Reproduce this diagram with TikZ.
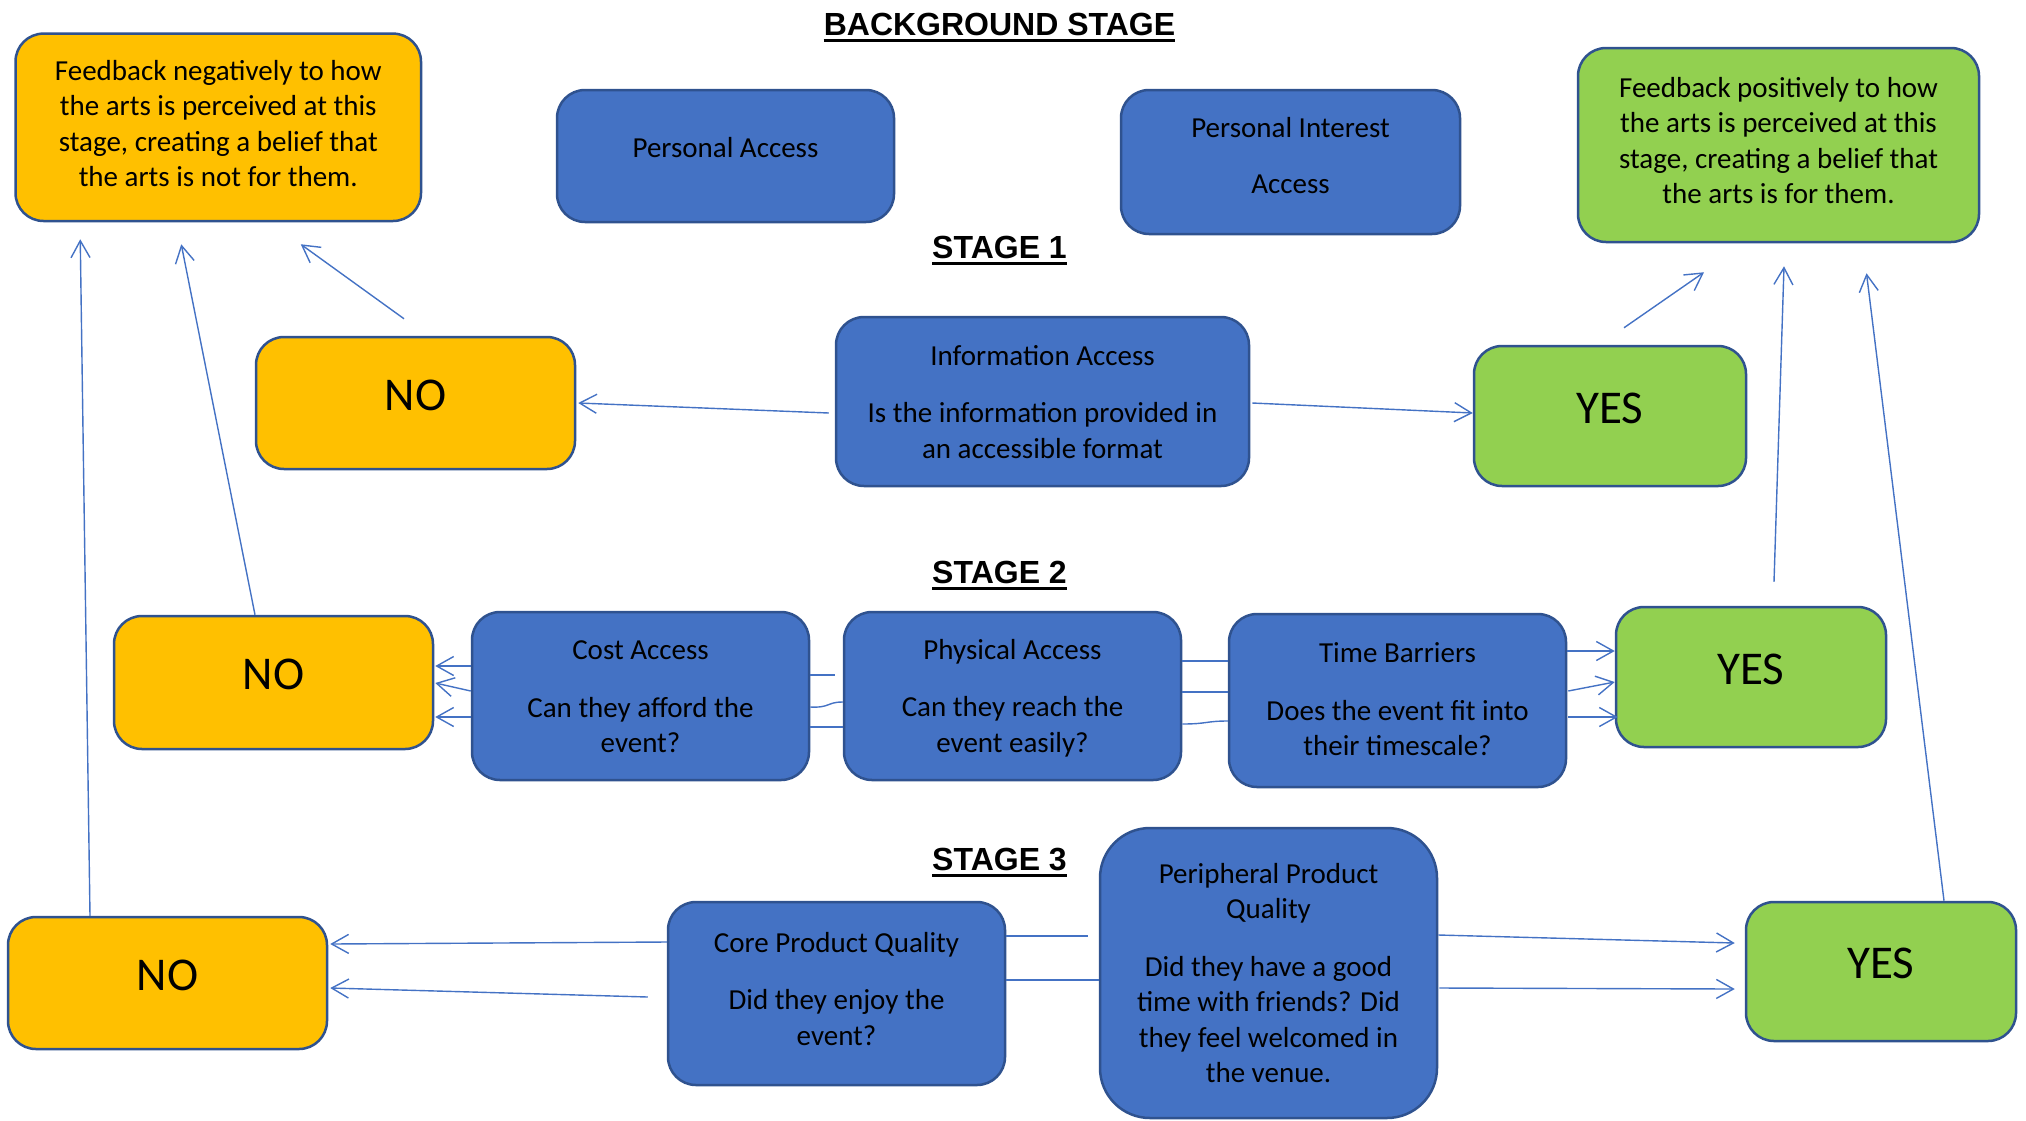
\documentclass[tikz,border=0pt]{standalone}
\usepackage{fontspec}
\setmainfont{Carlito}
\newfontfamily\titlefont{Liberation Sans}
\usetikzlibrary{arrows.meta,calc}
\definecolor{fillblue}{HTML}{4472C4}
\definecolor{edgeblue}{HTML}{2F528F}
\definecolor{orng}{HTML}{FFC000}
\definecolor{grn}{HTML}{92D050}
% multi-line text block, raised by #1 without changing the node's size
\newcommand\blocktxt[2]{\raisebox{#1}[\height][\depth]{\begin{tabular}{@{}c@{}}#2\end{tabular}}}
\begin{document}
\begin{tikzpicture}[x=1pt,y=-1pt,
  box/.style={draw=edgeblue, line width=2.5pt, rounded corners=28pt, inner sep=0pt, align=center,
    font=\fontsize{29}{35.5}\selectfont, text=black},
  bluebox/.style={box, fill=fillblue},
  sz/.style 2 args={minimum width=#1pt, minimum height=#2pt},
  nobox/.style={box, fill=orng, font=\fontsize{47}{56}\selectfont, text depth=16pt},
  yesbox/.style={box, fill=grn, font=\fontsize{47}{56}\selectfont, text depth=16pt},
  stagetitle/.style={font=\titlefont\bfseries\fontsize{32}{38}\selectfont, inner sep=0pt, anchor=base},
  uline/.style={line width=3pt},
  conn/.style={draw=fillblue, line width=1.4pt},
  arr/.style={conn, -{Straight Barb[length=17pt,width=19pt]}},
]
\useasboundingbox (0,0) rectangle (2026,1120);

% titles
\node[stagetitle] (t0) at (999.5,35) {BACKGROUND STAGE};
\node[stagetitle] (t1) at (999.5,258) {STAGE 1};
\node[stagetitle] (t2) at (999.5,583) {STAGE 2};
\node[stagetitle] (t3) at (999.5,870) {STAGE 3};
\foreach \t in {t0,t1,t2,t3}{
  \draw[uline] ([yshift=-5pt]\t.base west) -- ([yshift=-5pt]\t.base east);
}

% boxes
\node[box, fill=orng, sz={405.5}{187.4}] (negfb) at (218.25,127.3)
  {\blocktxt{1pt}{Feedback negatively to how\\the arts is perceived at this\\stage, creating a belief that\\the arts is not for them.}};
\node[bluebox, sz={337}{132}, text depth=18pt] (pa) at (725.5,156) {Personal Access};
\node[bluebox, sz={339}{144}] (pia) at (1290.5,162) {\blocktxt{3.3pt}{Personal Interest\\[20.5pt]Access}};
\node[box, fill=grn, sz={401}{194}] (posfb) at (1778.5,145)
  {\blocktxt{1.4pt}{Feedback positively to how\\the arts is perceived at this\\stage, creating a belief that\\the arts is for them.}};

\node[nobox, sz={319}{132}] (no1) at (415.5,403) {NO};
\node[bluebox, sz={413}{169}] (info) at (1042.5,401.5)
  {\blocktxt{-3.1pt}{Information Access\\[22pt]Is the information provided in\\an accessible format}};
\node[yesbox, sz={272}{140}] (yes1) at (1610,416) {YES};

\node[nobox, sz={319}{133}] (no2) at (273.5,682.5) {NO};
\node[bluebox, sz={337}{168}] (cost) at (640.5,696) {\blocktxt{-3.1pt}{Cost Access\\[22pt]Can they afford the\\event?}};
\node[bluebox, sz={337}{168}] (phys) at (1012.5,696) {\blocktxt{-2.7pt}{Physical Access\\[22pt]Can they reach the\\event easily?}};
\node[bluebox, sz={337}{173}] (time) at (1397.5,700.5) {\blocktxt{-1.4pt}{Time Barriers\\[22pt]Does the event fit into\\their timescale?}};
\node[yesbox, sz={270}{140}] (yes2) at (1751,677) {YES};

\node[nobox, sz={319}{132}] (no3) at (167.5,983) {NO};
\node[bluebox, sz={337}{183}] (core) at (836.5,993.5) {\blocktxt{1.8pt}{Core Product Quality\\[22pt]Did they enjoy the\\event?}};
\node[bluebox, sz={337}{290}, rounded corners=50pt] (peri) at (1268.5,973)
  {\blocktxt{-3.1pt}{Peripheral Product\\Quality\\[22pt]Did they have a good\\time with friends? Did\\they feel welcomed in\\the venue.}};
\node[yesbox, sz={270}{139}] (yes3) at (1881,971.5) {YES};

% feedback arrows
\draw[arr] ($(no1.north)+(-11.5,-17)$) -- ($(negfb.south)+(82.5,22)$);
\draw[arr] ($(no2.north)+(-18.5,0)$) -- ($(negfb.south)+(-37,22)$);
\draw[arr] ($(no3.north)+(-77.5,0)$) -- ($(negfb.south)+(-138,17)$);
\draw[arr] ($(yes1.north)+(14,-17)$) -- ($(posfb.south)+(-74.5,29)$);
\draw[arr] ($(yes2.north)+(23,-24)$) -- ($(posfb.south)+(5.5,23)$);
\draw[arr] ($(yes3.north)+(63,0)$) -- ($(posfb.south)+(88,30)$);

% stage 1
\draw[arr] ($(info.west)+(-6,11.5)$) -- ($(no1.east)+(2,0)$);
\draw[arr] ($(info.east)+(2,1.5)$) -- ($(yes1.west)+(0,-3)$);

% stage 2
\draw[arr] ($(cost.west)+(0,-30)$) -- ($(no2.east)+(1,-16.5)$);
\draw[arr] ($(cost.west)+(0,-5)$) -- ($(no2.east)+(1,0.5)$);
\draw[arr] ($(cost.west)+(0,21)$) -- ($(no2.east)+(1,34.5)$);
\draw[conn] ($(cost.east)+(0,-21)$) -- ($(phys.west)+(-8,-21)$);
\draw[conn] ($(cost.east)+(0,11)$) .. controls ($(cost.east)+(20,12)$) and ($(phys.west)+(-16,6)$) .. ($(phys.west)+(0,6)$);
\draw[conn] ($(cost.east)+(0,31)$) -- ($(phys.west)+(0,31)$);
\draw[conn] ($(phys.east)+(0,-35)$) -- ($(time.west)+(0,-39.5)$);
\draw[conn] ($(phys.east)+(0,-4)$) -- ($(time.west)+(0,-8.5)$);
\draw[conn] ($(phys.east)+(0,28)$) .. controls ($(phys.east)+(25,28)$) and ($(time.west)+(-22,20.5)$) .. ($(time.west)+(0,20.5)$);
\draw[arr] ($(time.east)+(0,-49.5)$) -- ($(yes2.west)+(0,-26)$);
\draw[arr] ($(time.east)+(1,-9.5)$) -- ($(yes2.west)+(0,5)$);
\draw[arr] ($(time.east)+(1,16.5)$) -- ($(yes2.west)+(3,40)$);

% stage 3
\draw[arr] ($(core.west)+(0,-51.5)$) -- ($(no3.east)+(2,-39)$);
\draw[arr] ($(core.west)+(-19,3.5)$) -- ($(no3.east)+(2,5)$);
\draw[conn] ($(core.east)+(0,-57.5)$) -- ($(peri.west)+(-11,-37)$);
\draw[conn] ($(core.east)+(0,-13.5)$) -- ($(peri.west)+(0,7)$);
\draw[arr] ($(peri.east)+(0,-38)$) -- ($(yes3.west)+(-10,-28.5)$);
\draw[arr] ($(peri.east)+(1,15)$) -- ($(yes3.west)+(-10,17.5)$);
\end{tikzpicture}
\end{document}
